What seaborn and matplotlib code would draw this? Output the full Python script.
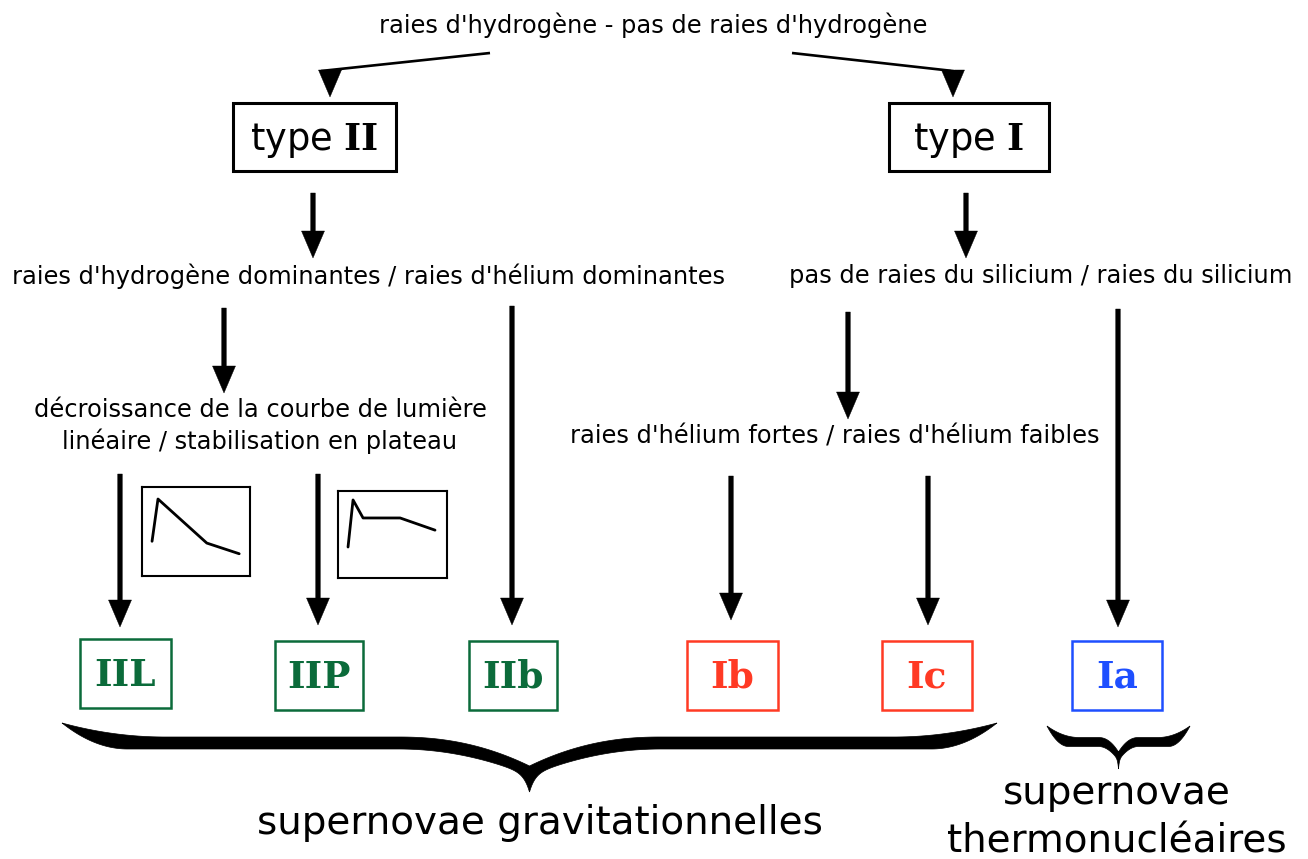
import numpy as np
import matplotlib
matplotlib.use("Agg")
import matplotlib.pyplot as plt
import seaborn as sns
from matplotlib.patches import Rectangle, Polygon

# --- texts of the classification tree ---
top_question = "raies d'hydrogène - pas de raies d'hydrogène"
type_labels = ["type $\\mathbf{II}$", "type $\\mathbf{I}$"]
type2_question = "raies d'hydrogène dominantes / raies d'hélium dominantes"
type1_question = "pas de raies du silicium / raies du silicium"
curve_question = "décroissance de la courbe de lumière\nlinéaire / stabilisation en plateau"
helium_question = "raies d'hélium fortes / raies d'hélium faibles"
subtype_labels = ["IIL", "IIP", "IIb", "Ib", "Ic", "Ia"]
subtype_colors = ["#0b6b3a", "#0b6b3a", "#0b6b3a", "#ff3a24", "#ff3a24", "#1e4fff"]
family_labels = ["supernovae gravitationnelles", "supernovae\nthermonucléaires"]

# --- sketched light curves (fraction of the little frame) ---
iil_time = [0.093, 0.148, 0.60, 0.90]
iil_flux = [0.39, 0.865, 0.37, 0.25]
iip_time = [0.092, 0.138, 0.23, 0.57, 0.89]
iip_flux = [0.356, 0.897, 0.69, 0.69, 0.55]

W, H = 1308, 859

sns.set_theme(style="white")
plt.rcParams["font.family"] = ["DejaVu Sans"]
plt.rcParams["text.color"] = "black"
plt.rcParams["mathtext.fontset"] = "custom"
plt.rcParams["mathtext.rm"] = "DejaVu Sans"
plt.rcParams["mathtext.bf"] = "DejaVu Serif:bold"

fig = plt.figure(figsize=(W / 100, H / 100), dpi=100)
ax = fig.add_axes([0, 0, 1, 1])
ax.set_xlim(0, W)
ax.set_ylim(H, 0)
ax.axis("off")


def box(x0, y0, x1, y1, color="black", lw=2.2):
    ax.add_patch(Rectangle((x0, y0), x1 - x0, y1 - y0, fill=False, ec=color, lw=lw))


def arrow(x, y0, y1):
    # one axis unit is one pixel, so the head is sized in pixels
    ax.arrow(x, y0, 0, y1 - y0, width=4.6, head_width=23, head_length=27,
             length_includes_head=True, fc="black", ec="black", lw=0.3)


def brace(x0, x1, y_end, y_bar, thick, y_notch, y_tip, a_lo=0.14, a_up=0.22):
    # filled curly brace opening upward, cusp pointing down
    xm = (x0 + x1) / 2
    s = np.linspace(0, 1, 400)
    lo_bar = y_bar + thick / 2
    up_bar = y_bar - thick / 2

    u_lo = np.clip(s / a_lo, 0, 1)
    u_up = np.clip(s / a_up, 0, 1)
    lo = y_end + (lo_bar - y_end) * (1 - (1 - u_lo) ** 2)
    up = y_end + (up_bar - y_end) * (1 - (1 - u_up) ** 2)

    v = np.clip((s - 0.72) / 0.28, 0, 1)
    lo = lo + (y_tip - lo_bar) * (0.62 * v ** 2 + 0.38 * v ** 24)
    up = up + (y_notch - up_bar) * v ** 2.2

    xl = x0 + s * (xm - x0)
    xr = x1 - s * (x1 - xm)
    outline = np.concatenate([
        np.column_stack([xl, lo]),
        np.column_stack([xr[::-1], lo[::-1]]),
        np.column_stack([xr, up]),
        np.column_stack([xl[::-1], up[::-1]]),
    ])
    ax.add_patch(Polygon(outline, closed=True, fc="black", ec="black", lw=0.5))


# top question and angled connectors
ax.text(653, 25, top_question, ha="center", va="center", fontsize=17.4)
ax.plot([490, 321], [53, 71], color="black", lw=1.9, solid_capstyle="butt")
ax.plot([792, 962], [53, 72], color="black", lw=1.9, solid_capstyle="butt")
arrow(330, 70, 97)
arrow(953, 71, 97)

# type boxes
box(233, 103, 396, 171)
box(889, 103, 1049, 171)
ax.text(314, 140, type_labels[0], ha="center", va="center", fontsize=26.5)
ax.text(969, 140, type_labels[1], ha="center", va="center", fontsize=26.5)

arrow(313, 193, 258)
arrow(966, 193, 258)

ax.text(368, 276, type2_question, ha="center", va="center", fontsize=17.4)
ax.text(789, 276, type1_question, ha="left", va="center", fontsize=17.4)

arrow(224, 308, 393)
arrow(848, 312, 419)
arrow(512, 306, 625)
arrow(1118, 309, 627)

ax.text(260, 426, curve_question, ha="center", va="center", fontsize=17.4,
        linespacing=1.33)
ax.text(835, 437, helium_question, ha="center", va="center", fontsize=17.4)

arrow(120, 474, 627)
arrow(318, 474, 625)
arrow(731, 476, 620)
arrow(928, 476, 625)

# little light curve frames
for (x0, y0, x1, y1), t, f in [((142, 487, 250, 576), iil_time, iil_flux),
                               ((338, 491, 447, 578), iip_time, iip_flux)]:
    inset = fig.add_axes([x0 / W, 1 - y1 / H, (x1 - x0) / W, (y1 - y0) / H])
    sns.lineplot(x=t, y=f, ax=inset, color="black", lw=2, sort=False)
    inset.set_xlim(0, 1)
    inset.set_ylim(0, 1)
    inset.set_xticks([])
    inset.set_yticks([])
    inset.set_facecolor("white")
    for sp in inset.spines.values():
        sp.set_visible(True)
        sp.set_color("black")
        sp.set_linewidth(1.5)

# subtype boxes
sub_boxes = [(80, 639, 171, 708), (275, 641, 363, 710), (469, 641, 557, 710),
             (687, 641, 778, 710), (882, 641, 972, 710), (1072, 641, 1162, 710)]
for (x0, y0, x1, y1), lab, col in zip(sub_boxes, subtype_labels, subtype_colors):
    box(x0, y0, x1, y1, color=col, lw=1.8)
    ax.text((x0 + x1) / 2, (y0 + y1) / 2 + 2, lab, ha="center", va="center",
            fontsize=27, color=col, family="DejaVu Serif", weight="bold")

# braces and families
brace(62, 997, 723, 743, 12, 766, 792)
brace(1047, 1190, 726, 742, 9, 752, 769, a_lo=0.3, a_up=0.45)
ax.text(540, 823, family_labels[0], ha="center", va="center", fontsize=28)
ax.text(1117, 817, family_labels[1], ha="center", va="center", fontsize=28,
        linespacing=1.34)

fig.savefig("out.png", dpi=100)
